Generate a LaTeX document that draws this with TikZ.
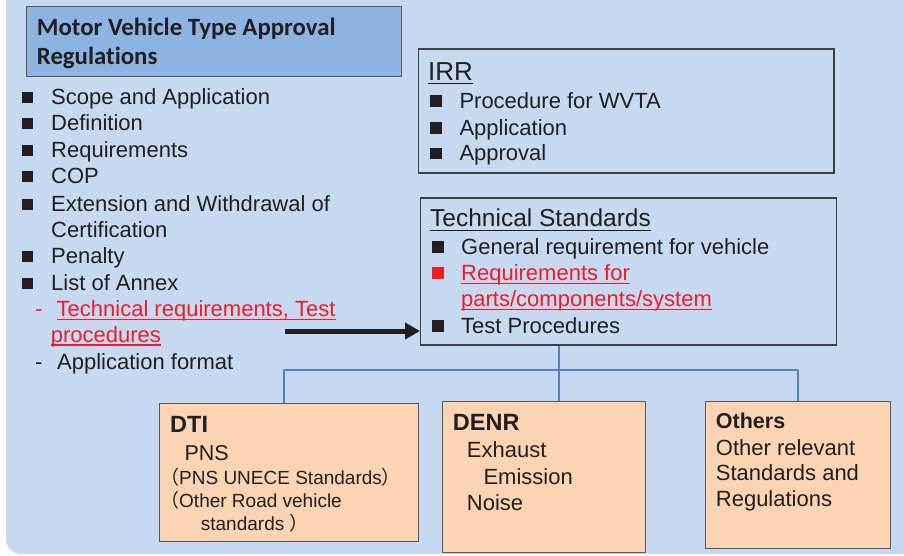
\documentclass[tikz,border=0pt]{standalone}
\usepackage{fontspec}
\setmainfont{Liberation Sans}
\newfontfamily\calfont[Ligatures=NoCommon]{Carlito}
\newfontfamily\cjkfont{Noto Sans CJK JP}
\usetikzlibrary{arrows.meta}
\definecolor{bgblue}{HTML}{C6D9F0}
\definecolor{titleblue}{HTML}{8DB3E2}
\definecolor{peach}{HTML}{FBD4B4}
\definecolor{txt}{HTML}{231F20}
\definecolor{redtxt}{HTML}{EE1C25}
\definecolor{linkblue}{HTML}{4F81BD}
\definecolor{edge}{HTML}{3F3F3F}
\definecolor{peachedge}{HTML}{595959}
\begin{document}
\begin{tikzpicture}[x=1pt,y=-1pt,
  tx/.style={anchor=base west, inner sep=0pt, text=txt, font=\fontsize{22}{26}\selectfont},
  redtx/.style={tx, text=redtxt},
  boldtx/.style={tx, font=\fontsize{23.5}{28}\selectfont\bfseries},
  smalltx/.style={tx, font=\fontsize{19}{23}\selectfont},
  headtx/.style={tx, font=\fontsize{24.5}{29}\selectfont},
  linebox/.style={draw=edge, line width=1.3pt, anchor=north west, inner sep=0pt},
  peachbox/.style={draw=peachedge, fill=peach, line width=1.3pt, anchor=north west, inner sep=0pt},
  bulletsq/.style={fill=txt},
  redbullet/.style={fill=redtxt},
  uline/.style={line width=1.5pt, draw=txt},
  reduline/.style={line width=1.5pt, draw=redtxt},
  link/.style={draw=linkblue, line width=1.1pt}]
\useasboundingbox (0,0) rectangle (904,555);
\fill[white] (0,0) rectangle (904,555);
\fill[bgblue] (904,0) -- (6,0) -- (6,539) arc[start angle=180, end angle=90, radius=15] -- (904,554) -- cycle;

% title box
\node[linebox, draw=peachedge, fill=titleblue, minimum width=375.3pt, minimum height=70.3pt] (title) at (25.7,5.7) {};
\node[tx, font=\fontsize{24.8}{28}\calfont\bfseries] (t1) at (36.7,35) {Motor Vehicle Type Approval};
\node[tx, font=\fontsize{24.8}{28}\calfont\bfseries] (t2) at (36.7,64) {Regulations};

% left list
\foreach \y in {104,130.5,157,183.5,211,263.5,290}
  \fill[bulletsq] (21.7,\y-1.5) rectangle (33.2,\y-12.5);
\node[tx] (l1) at (51,104) {Scope and Application};
\node[tx] (l2) at (51,130.5) {Definition};
\node[tx] (l3) at (51,157) {Requirements};
\node[tx] (l4) at (51,183.5) {COP};
\node[tx] (l5) at (51,211) {Extension and Withdrawal of};
\node[tx] (l6) at (51,237) {Certification};
\node[tx] (l7) at (51,263.5) {Penalty};
\node[tx] (l8) at (51,290) {List of Annex};
\node[redtx] (d1) at (35,316.5) {-};
\node[redtx] (l9) at (56.5,316.5) {Technical requirements, Test};
\node[redtx] (l10) at (50.7,342) {procedures};
\draw[reduline] ([yshift=-3pt]l9.base west) -- ([yshift=-3pt]l9.base east);
\draw[reduline] ([yshift=-3pt]l10.base west) -- ([yshift=-3pt]l10.base east);
\node[tx] (d2) at (35,369) {-};
\node[tx] (l11) at (57,369) {Application format};

% IRR box
\node[linebox, minimum width=415.6pt, minimum height=124pt] (irr) at (417.7,48.3) {};
\node[tx, font=\fontsize{26}{30}\selectfont] (irrh) at (428,80) {IRR};
\draw[uline] ([yshift=-3.5pt]irrh.base west) -- ([yshift=-3.5pt]irrh.base east);
\foreach \y in {108.3,135,160.7}
  \fill[bulletsq] (429.5,\y-1.5) rectangle (441.5,\y-13);
\node[tx] (i1) at (459.3,108.3) {Procedure for WVTA};
\node[tx] (i2) at (459.3,135) {Application};
\node[tx] (i3) at (459.3,160.7) {Approval};

% Technical standards box
\node[linebox, minimum width=415.7pt, minimum height=147pt] (tech) at (420,197.3) {};
\node[headtx] (th) at (430,226.7) {Technical Standards};
\draw[uline] ([yshift=-4pt]th.base west) -- ([yshift=-4pt]th.base east);
\foreach \y in {254,333.3}
  \fill[bulletsq] (431.7,\y-1.5) rectangle (443.7,\y-13);
\fill[redbullet] (431.7,279) rectangle (443.7,266.5);
\node[tx] (s1) at (461,254) {General requirement for vehicle};
\node[redtx] (s2) at (461,280.5) {Requirements for};
\node[redtx] (s3) at (461,306.5) {parts/components/system};
\draw[reduline] ([yshift=-3pt]s2.base west) -- ([yshift=-3pt]s2.base east);
\draw[reduline] ([yshift=-3pt]s3.base west) -- ([yshift=-3pt]s3.base east);
\node[tx] (s4) at (461,333.3) {Test Procedures};

% arrow
\coordinate (atail) at (285,331);
\draw[line width=5pt, txt, -{Triangle[length=15pt,width=16pt]}] (atail) -- (tech.west |- atail);

% lower boxes
\node[peachbox, minimum width=259pt, minimum height=138pt] (dti) at (159,403) {};
\node[peachbox, minimum width=203pt, minimum height=151pt] (denr) at (442,401) {};
\node[peachbox, minimum width=185pt, minimum height=147pt] (oth) at (705,401) {};

% connectors
\coordinate (jl) at (284,370);
\coordinate (jt) at (559,370);
\coordinate (jr) at (798,370);
\draw[link] (tech.south -| jt) -- (jt);
\draw[link] (jl) -- (jr);
\draw[link] (jl) -- (jl |- dti.north);
\draw[link] (jt) -- (jt |- denr.north);
\draw[link] (jr) -- (jr |- oth.north);

% DTI text
\node[boldtx] (dtih) at (170,432.7) {DTI};
\node[tx, font=\fontsize{21.5}{26}\selectfont] (p1) at (184.3,460) {PNS};
\node[smalltx] (p2) at (160,484) {{\cjkfont （}PNS UNECE Standards{\cjkfont ）}};
\node[smalltx] (p3) at (160,507.7) {{\cjkfont （}Other Road vehicle};
\node[smalltx] (p4) at (200.7,530.7) {standards {\cjkfont ）}};

% DENR text
\node[boldtx] (denrh) at (452.7,430.7) {DENR};
\node[tx] (e1) at (466.7,457.3) {Exhaust};
\node[tx] (e2) at (483.3,484) {Emission};
\node[tx] (e3) at (466.7,510.7) {Noise};

% Others text
\node[boldtx, font=\fontsize{21.5}{26}\selectfont\bfseries] (othh) at (715.7,428.3) {Others};
\node[tx] (o1) at (715.7,455) {Other relevant};
\node[tx] (o2) at (715.7,480.7) {Standards and};
\node[tx] (o3) at (715.7,506.7) {Regulations};
\end{tikzpicture}
\end{document}
